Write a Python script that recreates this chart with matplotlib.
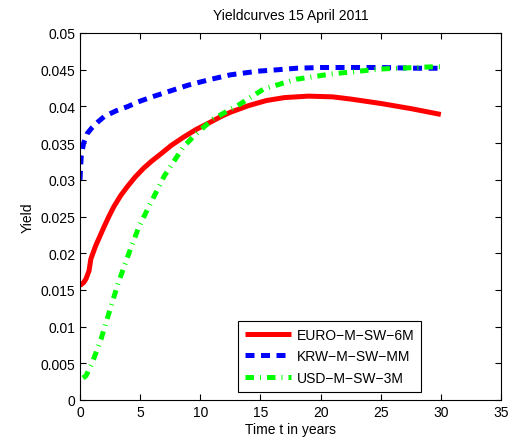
import matplotlib.pyplot as plt

plt.rcParams['font.family'] = ['Liberation Sans', 'DejaVu Sans']

# EURO-M-SW-6M
t_euro = [0, 0.3, 0.5, 0.75, 0.9, 1.3, 2.0, 2.4, 2.8, 3.4, 4.0, 4.6, 5.3, 6.0, 6.7, 7.6, 8.6, 9.7,
          10.9, 11.7, 12.5, 14.0, 15.5, 17.0, 19.0, 21.0, 22.5, 25.0, 27.5, 30.0]
y_euro = [0.0156, 0.0160, 0.0165, 0.0176, 0.0192, 0.0210, 0.0236, 0.0250, 0.0263, 0.0279, 0.0292,
          0.0304, 0.0316, 0.0326, 0.0335, 0.0347, 0.0358, 0.0369, 0.0379, 0.0386, 0.0392, 0.0401,
          0.0408, 0.0412, 0.0414, 0.0413, 0.0410, 0.0404, 0.0397, 0.0389]

# KRW-M-SW-MM
t_krw = [0, 0.1, 0.3, 0.6, 1.0, 1.5, 2.0, 3.0, 4.0, 4.8, 6.0, 7.5, 9.0, 10.9, 12.5, 14.8, 16.5,
         18, 20, 22, 25, 28, 30]
y_krw = [0.0300, 0.0332, 0.0350, 0.0363, 0.0371, 0.0379, 0.0386, 0.0394, 0.0400, 0.0406, 0.0413,
         0.0421, 0.0429, 0.0437, 0.0443, 0.0448, 0.0450, 0.0452, 0.0453, 0.0453, 0.0453, 0.0452, 0.0452]

# USD-M-SW-3M
t_usd = [0.25, 0.5, 1.0, 1.75, 2.4, 3.15, 4.2, 4.9, 5.5, 7.0, 8.6, 9.8, 11.1, 12.5, 13.1, 15.3,
         18.0, 20.8, 25.0, 29.4, 30.0]
y_usd = [0.0030, 0.0033, 0.0050, 0.0083, 0.0118, 0.0158, 0.0206, 0.0236, 0.0256, 0.0305, 0.0345,
         0.0365, 0.0383, 0.0396, 0.0401, 0.0424, 0.0437, 0.0444, 0.0451, 0.0454, 0.0454]

fig = plt.figure(figsize=(5.09, 4.39), dpi=100)
ax = fig.add_axes([80 / 509, 38 / 439, 421 / 509, 367 / 439])

ax.plot(t_euro, y_euro, color='#ff0000', lw=3.6, solid_capstyle='butt', solid_joinstyle='round',
        label='EURO\u2212M\u2212SW\u22126M')
ax.plot(t_krw, y_krw, color='#0000ff', lw=3.6, ls=(0, (1.8, 1.3)), label='KRW\u2212M\u2212SW\u2212MM')
ax.plot(t_usd, y_usd, color='#00ff00', lw=3.6, ls=(0, (1.7, 1.2, 0.2, 1.2)), label='USD\u2212M\u2212SW\u22123M')

ax.set_xlim(0, 35)
ax.set_ylim(0, 0.05)
ax.set_xticks(range(0, 36, 5))
ax.set_yticks([0, 0.005, 0.01, 0.015, 0.02, 0.025, 0.03, 0.035, 0.04, 0.045, 0.05])
ax.set_yticklabels(['0', '0.005', '0.01', '0.015', '0.02', '0.025', '0.03', '0.035', '0.04', '0.045', '0.05'])
ax.tick_params(direction='in', top=True, right=True, labelsize=10, length=4)
for s in ax.spines.values():
    s.set_linewidth(0.8)

ax.set_xlabel('Time t in years', fontsize=10, labelpad=2)
ax.set_ylabel('Yield', fontsize=10)
ax.set_title('Yieldcurves 15 April 2011', fontsize=10, pad=10)

leg = ax.legend(loc='lower right', bbox_to_anchor=(0.81, 0.022), borderaxespad=0, fontsize=10,
                fancybox=False, edgecolor='black', framealpha=1, handlelength=3.3,
                handletextpad=0.4, borderpad=0.5, labelspacing=0.55)
leg.get_frame().set_linewidth(0.8)

fig.savefig('out.png', dpi=100)
